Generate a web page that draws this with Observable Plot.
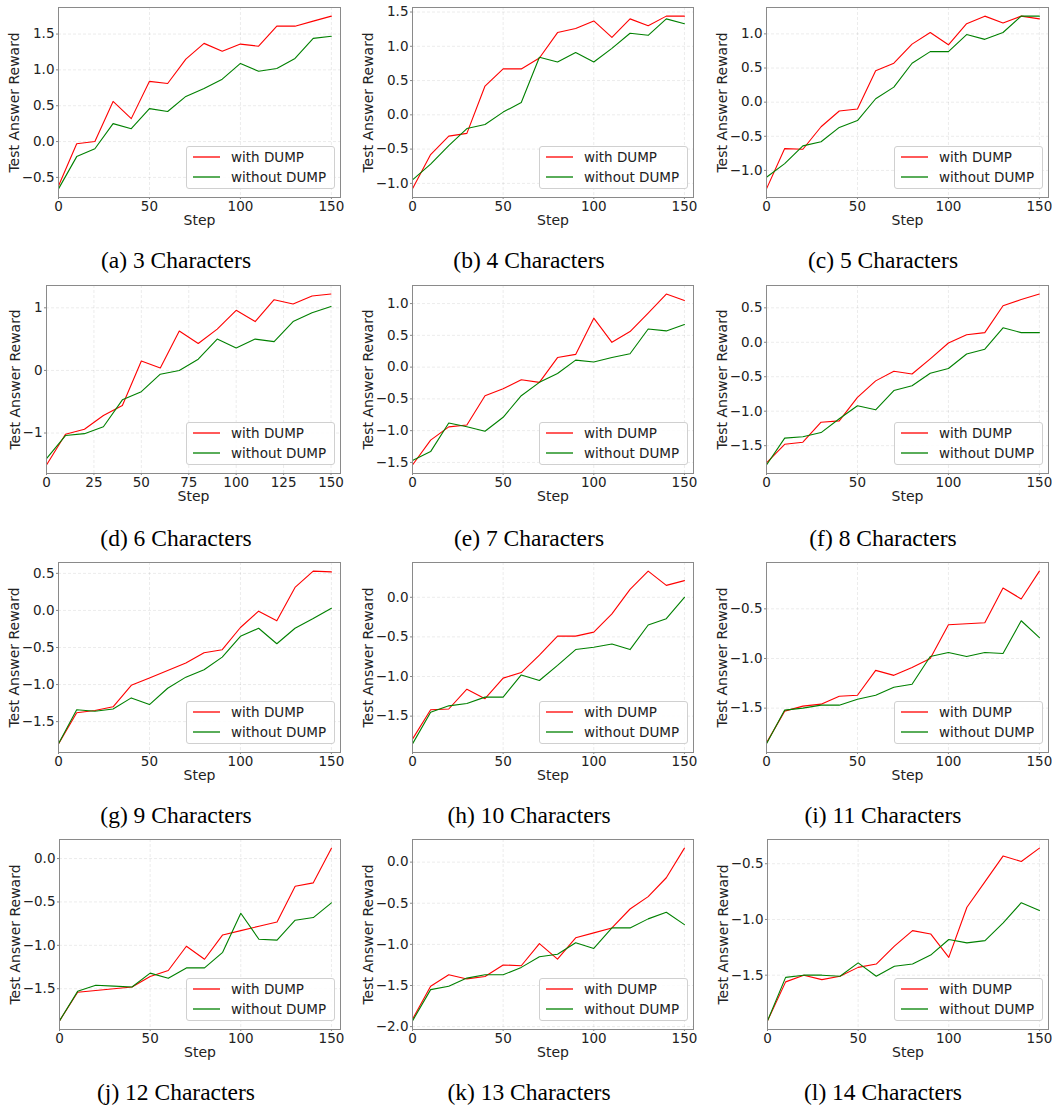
<!DOCTYPE html>
<html><head><meta charset="utf-8">
<script src="https://cdn.jsdelivr.net/npm/d3@7"></script>
<script src="https://cdn.jsdelivr.net/npm/@observablehq/plot@0.6"></script>
<style>
body{margin:0;background:#fff;}
#fig{position:relative;width:1052px;height:1105px;background:#fff;overflow:hidden;}
.panel{position:absolute;}
.caption{position:absolute;font-family:"Liberation Serif","Times New Roman",serif;font-size:23.5px;color:#000;white-space:nowrap;transform:translate(-50%,-50%);}
.legend{position:absolute;box-sizing:border-box;width:149px;height:43px;border:1px solid #d0d0d0;border-radius:3px;background:rgba(255,255,255,0.85);font-family:"DejaVu Sans",sans-serif;font-size:13.5px;color:#222;}
.legend svg{position:absolute;left:6px;width:27px;height:4px;overflow:visible;}
.legend .lab{position:absolute;left:44px;line-height:16px;white-space:nowrap;}
</style></head>
<body><div id="fig"></div>
<script>
const steps = [0,10,20,30,40,50,60,70,80,90,100,110,120,130,140,150];
const seriesNames = ["with DUMP", "without DUMP"];
const captions = ["(a) 3 Characters","(b) 4 Characters","(c) 5 Characters","(d) 6 Characters","(e) 7 Characters","(f) 8 Characters","(g) 9 Characters","(h) 10 Characters","(i) 11 Characters","(j) 12 Characters","(k) 13 Characters","(l) 14 Characters"];
const yAxisLabel = "Test Answer Reward";
const xAxisLabel = "Step";

const with3 = [-0.62,-0.03,0.00,0.56,0.32,0.84,0.81,1.15,1.37,1.26,1.36,1.33,1.61,1.61,1.68,1.75];
const without3 = [-0.66,-0.21,-0.10,0.25,0.18,0.46,0.42,0.63,0.74,0.87,1.09,0.98,1.02,1.16,1.44,1.47];
const with4 = [-1.08,-0.58,-0.31,-0.27,0.42,0.67,0.67,0.83,1.20,1.26,1.37,1.13,1.40,1.30,1.44,1.44];
const without4 = [-0.95,-0.72,-0.45,-0.20,-0.14,0.04,0.18,0.84,0.77,0.91,0.77,0.97,1.19,1.16,1.40,1.33];
const with5 = [-1.27,-0.68,-0.69,-0.36,-0.13,-0.10,0.46,0.57,0.85,1.02,0.84,1.15,1.26,1.16,1.26,1.22];
const without5 = [-1.10,-0.90,-0.64,-0.58,-0.37,-0.27,0.05,0.22,0.57,0.74,0.74,0.99,0.92,1.02,1.26,1.26];
const with6 = [-1.51,-1.02,-0.94,-0.72,-0.56,0.15,0.04,0.63,0.43,0.66,0.96,0.78,1.13,1.06,1.19,1.22];
const without6 = [-1.41,-1.04,-1.01,-0.90,-0.47,-0.34,-0.06,0.00,0.18,0.50,0.36,0.50,0.46,0.78,0.92,1.02];
const with7 = [-1.54,-1.15,-0.94,-0.91,-0.45,-0.34,-0.20,-0.24,0.15,0.20,0.77,0.39,0.56,0.85,1.15,1.05];
const without7 = [-1.47,-1.33,-0.88,-0.94,-1.01,-0.79,-0.45,-0.24,-0.10,0.11,0.08,0.15,0.21,0.60,0.57,0.67];
const with8 = [-1.75,-1.48,-1.45,-1.16,-1.14,-0.80,-0.56,-0.42,-0.46,-0.24,-0.01,0.11,0.14,0.53,0.62,0.70];
const without8 = [-1.78,-1.39,-1.37,-1.31,-1.11,-0.92,-0.98,-0.70,-0.63,-0.45,-0.38,-0.17,-0.10,0.21,0.14,0.14];
const with9 = [-1.80,-1.38,-1.35,-1.30,-1.01,-0.91,-0.81,-0.71,-0.57,-0.53,-0.23,-0.01,-0.14,0.31,0.53,0.52];
const without9 = [-1.80,-1.34,-1.36,-1.33,-1.18,-1.27,-1.05,-0.90,-0.80,-0.63,-0.35,-0.24,-0.45,-0.24,-0.11,0.03];
const with10 = [-1.79,-1.42,-1.41,-1.16,-1.28,-1.02,-0.95,-0.73,-0.49,-0.49,-0.44,-0.21,0.10,0.33,0.15,0.21];
const without10 = [-1.85,-1.45,-1.37,-1.34,-1.26,-1.26,-0.98,-1.05,-0.86,-0.66,-0.63,-0.59,-0.66,-0.35,-0.27,0.00];
const with11 = [-1.85,-1.53,-1.48,-1.46,-1.38,-1.37,-1.12,-1.17,-1.09,-1.00,-0.66,-0.65,-0.64,-0.29,-0.40,-0.12];
const without11 = [-1.86,-1.52,-1.50,-1.47,-1.47,-1.41,-1.37,-1.29,-1.26,-0.98,-0.94,-0.98,-0.94,-0.95,-0.62,-0.79];
const with12 = [-1.87,-1.54,-1.52,-1.50,-1.48,-1.36,-1.29,-1.01,-1.16,-0.88,-0.83,-0.78,-0.73,-0.32,-0.28,0.12];
const without12 = [-1.87,-1.53,-1.46,-1.47,-1.48,-1.32,-1.38,-1.26,-1.26,-1.08,-0.63,-0.93,-0.94,-0.71,-0.68,-0.51];
const with13 = [-1.91,-1.51,-1.37,-1.42,-1.39,-1.25,-1.26,-0.99,-1.18,-0.92,-0.86,-0.80,-0.57,-0.42,-0.19,0.17];
const without13 = [-1.93,-1.55,-1.51,-1.41,-1.37,-1.37,-1.28,-1.15,-1.12,-0.98,-1.05,-0.80,-0.80,-0.69,-0.61,-0.76];
const with14 = [-1.91,-1.56,-1.50,-1.54,-1.51,-1.43,-1.40,-1.24,-1.10,-1.13,-1.34,-0.89,-0.66,-0.43,-0.48,-0.36];
const without14 = [-1.91,-1.52,-1.50,-1.50,-1.51,-1.39,-1.51,-1.42,-1.40,-1.32,-1.18,-1.21,-1.19,-1.03,-0.85,-0.92];

const xTicks = [0,50,100,150];
const xTicks6 = [0,25,50,75,100,125,150];
const yTicks3 = [-0.5,0,0.5,1,1.5];
const yTicks4 = [-1,-0.5,0,0.5,1,1.5];
const yTicks5 = [-1,-0.5,0,0.5,1];
const yTicks6 = [-1,0,1];
const yTicks7 = [-1.5,-1,-0.5,0,0.5,1];
const yTicks8 = [-1.5,-1,-0.5,0,0.5];
const yTicks9 = [-1.5,-1,-0.5,0,0.5];
const yTicks10 = [-1.5,-1,-0.5,0];
const yTicks11 = [-1.5,-1,-0.5];
const yTicks12 = [-1.5,-1,-0.5,0];
const yTicks13 = [-2,-1.5,-1,-0.5,0];
const yTicks14 = [-1.5,-1,-0.5];

const panels = [
  {w: with3, wo: without3, yt: yTicks3, xt: xTicks, dec: 1},
  {w: with4, wo: without4, yt: yTicks4, xt: xTicks, dec: 1},
  {w: with5, wo: without5, yt: yTicks5, xt: xTicks, dec: 1},
  {w: with6, wo: without6, yt: yTicks6, xt: xTicks6, dec: 0},
  {w: with7, wo: without7, yt: yTicks7, xt: xTicks, dec: 1},
  {w: with8, wo: without8, yt: yTicks8, xt: xTicks, dec: 1},
  {w: with9, wo: without9, yt: yTicks9, xt: xTicks, dec: 1},
  {w: with10, wo: without10, yt: yTicks10, xt: xTicks, dec: 1},
  {w: with11, wo: without11, yt: yTicks11, xt: xTicks, dec: 1},
  {w: with12, wo: without12, yt: yTicks12, xt: xTicks, dec: 1},
  {w: with13, wo: without13, yt: yTicks13, xt: xTicks, dec: 1},
  {w: with14, wo: without14, yt: yTicks14, xt: xTicks, dec: 1}
];

// layout (pixels)
const colLeft = [0, 350, 700];
const frameLeftByPanel = [58,412,766, 46,412,766, 58,412,766, 59,412,767];
const frameRightByCol = [340, 693, 1048];
const frameTopByRow = [7, 285, 562, 839];
const frameBottomByRow = [197, 473, 752, 1029];
const captionX = [176, 529, 883];
const captionY = [260, 538, 815, 1092];
const RED = "#ff0000", GREEN = "#008000";

const fig = document.getElementById("fig");
const NS = "http://www.w3.org/2000/svg";

panels.forEach((p, i) => {
  const row = Math.floor(i / 3), col = i % 3;
  const fl = frameLeftByPanel[i], fr = frameRightByCol[col];
  const ft = frameTopByRow[row], fb = frameBottomByRow[row];
  const mT = 10, mB = 40, mR = 4;
  const left = colLeft[col];
  const mL = fl - left;
  const width = fr - left + mR;
  const height = (fb - ft) + mT + mB;

  const all = p.w.concat(p.wo);
  const lo = d3.min(all), hi = d3.max(all), pad = (hi - lo) * 0.05;
  const fmt = d3.format(p.dec ? ".1f" : ".0f");
  const dW = steps.map((s, k) => ({step: s, value: p.w[k]}));
  const dWo = steps.map((s, k) => ({step: s, value: p.wo[k]}));
  const ylabDx = (i === 3) ? -31 : -44;

  const chart = Plot.plot({
    width, height,
    marginLeft: mL, marginRight: mR, marginTop: mT, marginBottom: mB,
    x: {domain: [0, 155], label: null},
    y: {domain: [lo - pad, hi + pad], label: null},
    style: {fontFamily: "DejaVu Sans, sans-serif", fontSize: "13px", color: "#222", background: "white", overflow: "visible"},
    marks: [
      Plot.gridX(p.xt, {stroke: "#000", strokeOpacity: 0.1, strokeDasharray: "3,2", strokeWidth: 0.8}),
      Plot.gridY(p.yt, {stroke: "#000", strokeOpacity: 0.1, strokeDasharray: "3,2", strokeWidth: 0.8}),
      Plot.axisX({ticks: p.xt, tickFormat: d => String(d), tickSize: 2, tickPadding: 2, label: null, stroke: "#888", fontSize: 13.5}),
      Plot.axisY({ticks: p.yt, tickFormat: fmt, tickSize: 2, tickPadding: 2, label: null, stroke: "#888", fontSize: 13.5}),
      Plot.line(dW, {x: "step", y: "value", stroke: RED, strokeWidth: 1.1}),
      Plot.line(dWo, {x: "step", y: "value", stroke: GREEN, strokeWidth: 1.1}),
      Plot.frame({stroke: "#8a8a8a", strokeWidth: 1}),
      Plot.text([xAxisLabel], {text: d => d, frameAnchor: "bottom", dy: 23, lineAnchor: "middle", fontSize: 14, fill: "#222"}),
      Plot.text([yAxisLabel], {text: d => d, frameAnchor: "left", dx: ylabDx, rotate: -90, textAnchor: "middle", lineAnchor: "middle", fontSize: 14, fill: "#222"})
    ]
  });
  const wrap = document.createElement("div");
  wrap.className = "panel";
  wrap.style.left = left + "px";
  wrap.style.top = (ft - mT) + "px";
  wrap.appendChild(chart);
  fig.appendChild(wrap);

  // legend (lower right inside frame)
  const lg = document.createElement("div");
  lg.className = "legend";
  const boxW = 149, boxH = 43;
  lg.style.left = (fr - 5 - boxW) + "px";
  lg.style.top = (fb - 8 - boxH) + "px";
  [RED, GREEN].forEach((c, k) => {
    const sw = document.createElementNS(NS, "svg");
    sw.setAttribute("width", "27");
    sw.setAttribute("height", "4");
    sw.style.top = (8 + 20 * k) + "px";
    const ln = document.createElementNS(NS, "line");
    ln.setAttribute("x1", "0"); ln.setAttribute("x2", "27");
    ln.setAttribute("y1", "2"); ln.setAttribute("y2", "2");
    ln.setAttribute("stroke", c);
    ln.setAttribute("stroke-width", "1.3");
    sw.appendChild(ln);
    lg.appendChild(sw);
    const lab = document.createElement("div");
    lab.className = "lab";
    lab.textContent = seriesNames[k];
    lab.style.top = (2 + 20 * k) + "px";
    lg.appendChild(lab);
  });
  fig.appendChild(lg);

  const cap = document.createElement("div");
  cap.className = "caption";
  cap.textContent = captions[i];
  cap.style.left = captionX[col] + "px";
  cap.style.top = captionY[row] + "px";
  fig.appendChild(cap);
});
</script>
</body></html>
